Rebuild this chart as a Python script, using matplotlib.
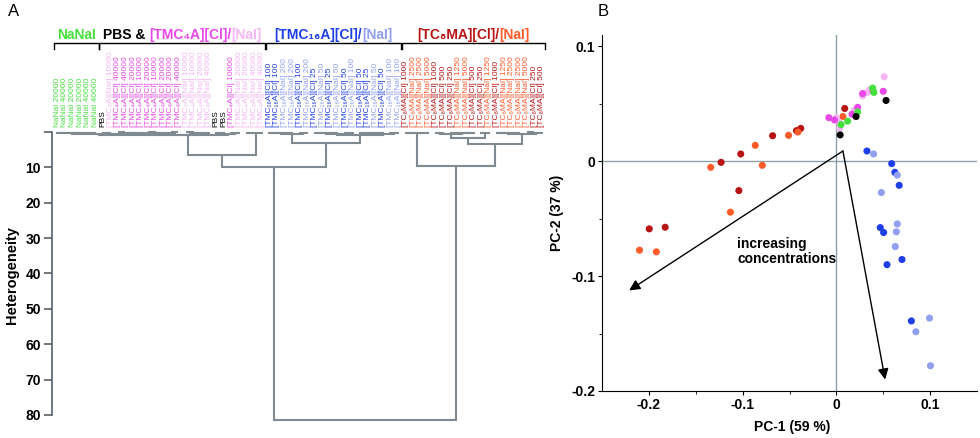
import matplotlib
matplotlib.use('Agg')
import matplotlib.pyplot as plt
import matplotlib.transforms as mtransforms
from matplotlib.offsetbox import TextArea, HPacker, AnnotationBbox

plt.rcParams['font.family'] = ['Liberation Sans', 'DejaVu Sans']

# ---------------- colours ----------------
COL = {'g': '#46e03c', 'k': '#000000', 'm': '#e848e8', 'p': '#f4b6f4',
       'b': '#1e3ee6', 'lb': '#909ff0', 'r': '#b81414', 'o': '#ff5a2a'}
DCOL = '#7f8b91'

# ---------------- panel A data (dendrogram leaves) ----------------
leaf_labels = (
    ['NaNaI 20000', 'NaNaI 40000', 'NaNaI 20000', 'NaNaI 20000', 'NaNaI 40000', 'NaNaI 40000',
     'PBS', '[TMC₄A][NaI] 10000'] +
    ['[TMC₄A][Cl] ' + c for c in ['40000', '40000', '20000', '10000', '20000', '10000', '20000', '20000', '40000']] +
    ['[TMC₄A][NaI] ' + c for c in ['10000', '10000', '20000', '40000']] +
    ['PBS', 'PBS', '[TMC₄A][Cl] 10000'] +
    ['[TMC₄A][NaI] ' + c for c in ['20000', '20000', '40000', '40000']] +
    ['[TMC₁₆A][Cl] 100', '[TMC₁₆A][Cl] 100', '[TMC₁₆A][NaI] 200', '[TMC₁₆A][NaI] 200',
     '[TMC₁₆A][Cl] 100', '[TMC₁₆A][NaI] 200', '[TMC₁₆A][Cl] 25', '[TMC₁₆A][NaI] 50',
     '[TMC₁₆A][Cl] 25', '[TMC₁₆A][NaI] 50', '[TMC₁₆A][Cl] 50', '[TMC₁₆A][NaI] 100',
     '[TMC₁₆A][Cl] 50', '[TMC₁₆A][Cl] 25', '[TMC₁₆A][NaI] 50', '[TMC₁₆A][Cl] 50',
     '[TMC₁₆A][NaI] 100', '[TMC₁₆A][NaI] 100'] +
    ['[TC₈MA][Cl] 1000', '[TC₈MA][NaI] 2500', '[TC₈MA][NaI] 2500', '[TC₈MA][NaI] 5000',
     '[TC₈MA][Cl] 1000', '[TC₈MA][Cl] 500', '[TC₈MA][Cl] 250', '[TC₈MA][NaI] 1250',
     '[TC₈MA][NaI] 5000', '[TC₈MA][Cl] 500', '[TC₈MA][Cl] 250', '[TC₈MA][NaI] 1250',
     '[TC₈MA][Cl] 1000', '[TC₈MA][NaI] 1250', '[TC₈MA][NaI] 2500', '[TC₈MA][NaI] 2500',
     '[TC₈MA][NaI] 5000', '[TC₈MA][Cl] 250', '[TC₈MA][Cl] 500']
)
leaf_kinds = (['g'] * 6 + ['k', 'p'] + ['m'] * 9 + ['p'] * 4 + ['k', 'k', 'm'] + ['p'] * 4 +
              ['b', 'b', 'lb', 'lb', 'b', 'lb', 'b', 'lb', 'b', 'lb', 'b', 'lb', 'b', 'b', 'lb', 'b', 'lb', 'lb'] +
              ['r', 'o', 'o', 'o', 'r', 'r', 'r', 'o', 'o', 'r', 'r', 'o', 'r', 'o', 'o', 'o', 'o', 'r', 'r'])

# tree: (height, left, right); leaves are indices
G = (0.4, (0.2, 0, 1), (0.3, (0.15, 2, 3), (0.2, 4, 5)))
M = (0.45, (0.3, 6, 7), (0.35, (0.25, (0.1, 8, 9), (0.15, 10, 11)),
                          (0.3, (0.1, 12, 13), (0.2, 14, (0.1, 15, 16)))))
P4 = (0.25, (0.1, 17, 18), (0.15, 19, 20))
RR = (0.5, (0.2, 21, 22), (0.3, 23, 24))
A2 = (0.35, (0.2, 25, 26), 27)
A1 = (0.95, (0.8, (0.5, G, M), P4), RR)
B1 = (0.5, (0.35, (0.2, 28, 29), (0.2, 30, 31)), (0.25, 32, 33))
B2 = (0.9, (0.5, (0.3, (0.2, 34, 35), (0.15, 36, 37)), (0.2, 38, 39)),
           (0.5, (0.3, (0.2, 40, 41), (0.2, 42, 43)), (0.15, 44, 45)))
R1 = (0.35, (0.2, 46, 47), (0.2, 48, 49))
R2a = (1.6, (0.45, (0.2, 50, 51), (0.3, (0.15, 52, 53), (0.2, 54, 55))), (0.3, 56, 57))
R2b = (0.5, (0.3, (0.2, 58, 59), (0.15, 60, 61)), (0.2, (0.1, 62, 63), 64))
tree = (81.4, (9.8, (6.4, A1, A2), (3.0, B1, B2)), (9.6, R1, (3.4, R2a, R2b)))

groups = [('NaNaI', 0, 5), ('PBS', 6, 27), ('TMC16', 28, 45), ('TC8MA', 46, 64)]
group_titles = {
    'NaNaI': [('NaNaI', COL['g'])],
    'PBS': [('PBS & ', '#000000'), ('[TMC₄A][Cl]/', COL['m']), ('[NaI]', COL['p'])],
    'TMC16': [('[TMC₁₆A][Cl]/', COL['b']), ('[NaI]', COL['lb'])],
    'TC8MA': [('[TC₈MA][Cl]/', COL['r']), ('[NaI]', COL['o'])],
}

hetero_ticks = [0, 10, 20, 30, 40, 50, 60, 70, 80]

# ---------------- panel B data (PCA scores) ----------------
green_x = [0.0387, 0.040, 0.0227, 0.012, 0.005]
green_y = [0.0638, 0.060, 0.043, 0.035, 0.032]
black_x = [0.053, 0.021, 0.004]
black_y = [0.053, 0.039, 0.023]
mag_x = [0.050, 0.039, 0.028, 0.0227, 0.0167, -0.008, -0.002]
mag_y = [0.061, 0.0614, 0.059, 0.047, 0.041, 0.038, 0.036]
pink_x = [0.051, 0.033, 0.035, 0.028, 0.019, 0.0, 0.003, 0.0035]
pink_y = [0.0736, 0.060, 0.062, 0.057, 0.0446, 0.038, 0.034, 0.029]
blue_x = [0.0326, 0.059, 0.0624, 0.067, 0.0468, 0.0504, 0.054, 0.070, 0.080]
blue_y = [0.009, -0.002, -0.0096, -0.0209, -0.0577, -0.062, -0.090, -0.0855, -0.139]
lblue_x = [0.0397, 0.065, 0.048, 0.065, 0.064, 0.0628, 0.0993, 0.0848, 0.1004]
lblue_y = [0.0064, -0.012, -0.0272, -0.0545, -0.0614, -0.0742, -0.1365, -0.1484, -0.178]
dred_x = [0.0089, -0.038, -0.0426, -0.068, -0.102, -0.123, -0.104, -0.1996, -0.1826]
dred_y = [0.046, 0.0287, 0.0267, 0.0223, 0.0064, -0.0009, -0.0255, -0.0588, -0.0574]
orng_x = [0.007, -0.041, -0.051, -0.0865, -0.079, -0.134, -0.113, -0.210, -0.192]
orng_y = [0.039, 0.0255, 0.0226, 0.0139, -0.0035, -0.0052, -0.0443, -0.0774, -0.0788]

arrow_start = (0.007, 0.009)
arrow_ends = [(-0.221, -0.1124), (0.052, -0.19)]

# ---------------- figure ----------------
W, H = 980, 438
fig = plt.figure(figsize=(W / 100, H / 100), dpi=100)
axA = fig.add_axes([52 / W, 1 - 422 / H, (548 - 52) / W, (422 - 132) / H])
axB = fig.add_axes([602 / W, 1 - 391 / H, (977 - 602) / W, (391 - 35) / H])

# ----- panel A -----
def draw(node):
    if isinstance(node, int):
        return float(node), 0.0
    h, left, right = node
    xl, hl = draw(left)
    xr, hr = draw(right)
    axA.plot([xl, xl, xr, xr], [hl, h, h, hr], color=DCOL, lw=1.5, clip_on=False,
             solid_joinstyle='miter', solid_capstyle='butt')
    return (xl + xr) / 2, h

draw(tree)
axA.set_xlim(-0.7, 64.8)
axA.set_ylim(82, 0)
for s in ['top', 'right', 'bottom']:
    axA.spines[s].set_visible(False)
axA.spines['left'].set_bounds(0, 80)
axA.spines['left'].set_color('#56616a')
axA.spines['left'].set_linewidth(1.2)
axA.set_xticks([])
axA.set_yticks(hetero_ticks)
axA.set_yticklabels(['' if t == 0 else str(t) for t in hetero_ticks], fontweight='bold', fontsize=10)
axA.tick_params(axis='y', direction='out', length=6, width=1.2, color='#56616a', pad=2)

for i, (lab, k) in enumerate(zip(leaf_labels, leaf_kinds)):
    axA.text(i, -1.4, lab, rotation=90, ha='center', va='bottom', fontsize=6.0,
             color=COL[k], clip_on=False)

trans = mtransforms.blended_transform_factory(axA.transData, fig.transFigure)
yb_top = 1 - 43 / H
yb_bot = 1 - 49 / H
for name, s, e in groups:
    x0, x1 = s - 0.5, e + 0.45
    axA.plot([x0, x0, x1, x1], [yb_bot, yb_top, yb_top, yb_bot], color='k', lw=1,
             transform=trans, clip_on=False)
    boxes = [TextArea(t, textprops=dict(color=c, fontsize=10, fontweight='bold'))
             for t, c in group_titles[name]]
    pack = HPacker(children=boxes, align='baseline', pad=0, sep=0)
    ab = AnnotationBbox(pack, ((x0 + x1) / 2, 1 - 35 / H), xycoords=trans, frameon=False,
                        box_alignment=(0.5, 0.5), annotation_clip=False)
    axA.add_artist(ab)

fig.text(12 / W, 1 - 275 / H, 'Heterogeneity', rotation=90, ha='center', va='center',
         fontsize=10.5, fontweight='bold')
fig.text(8 / W, 1 - 12 / H, 'A', fontsize=12, ha='left', va='center')
fig.text(598 / W, 1 - 12 / H, 'B', fontsize=12, ha='left', va='center')

# ----- panel B -----
axB.axhline(0, color='#90a0a8', lw=1, zorder=1)
axB.axvline(0, color='#90a0a8', lw=1, zorder=1)
for xs, ys, k in [(dred_x, dred_y, 'r'), (orng_x, orng_y, 'o'), (blue_x, blue_y, 'b'),
                  (lblue_x, lblue_y, 'lb'), (pink_x, pink_y, 'p'), (mag_x, mag_y, 'm'),
                  (green_x, green_y, 'g'), (black_x, black_y, 'k')]:
    axB.scatter(xs, ys, s=26, color=COL[k], edgecolors='none', zorder=3)
for end in arrow_ends:
    axB.annotate('', xy=end, xytext=arrow_start,
                 arrowprops=dict(arrowstyle='-|>', color='k', lw=1, mutation_scale=16,
                                 shrinkA=0, shrinkB=0), zorder=4)
axB.text(-0.106, -0.0785, 'increasing\nconcentrations', fontsize=10, fontweight='bold',
         ha='left', va='center', linespacing=1.15)
axB.set_xlim(-0.25, 0.15)
axB.set_ylim(-0.2, 0.11)
for s in ['top', 'right']:
    axB.spines[s].set_visible(False)
axB.set_xticks([-0.2, -0.1, 0, 0.1])
axB.set_xticklabels(['-0.2', '-0.1', '0', '0.1'], fontweight='bold', fontsize=10)
axB.set_yticks([-0.2, -0.1, 0, 0.1])
axB.set_yticklabels(['-0.2', '-0.1', '0', '0.1'], fontweight='bold', fontsize=10)
axB.set_xticks([-0.15, -0.05, 0.05], minor=True)
axB.set_yticks([-0.15, -0.05, 0.05], minor=True)
axB.tick_params(which='major', direction='out', length=3, pad=2)
axB.tick_params(which='minor', direction='out', length=2)
fig.text(792 / W, 1 - 427 / H, 'PC-1 (59 %)', ha='center', va='center', fontsize=10,
         fontweight='bold')
fig.text(557 / W, 1 - 213 / H, 'PC-2 (37 %)', rotation=90, ha='center', va='center',
         fontsize=10, fontweight='bold')

fig.savefig('out.png', dpi=100)
